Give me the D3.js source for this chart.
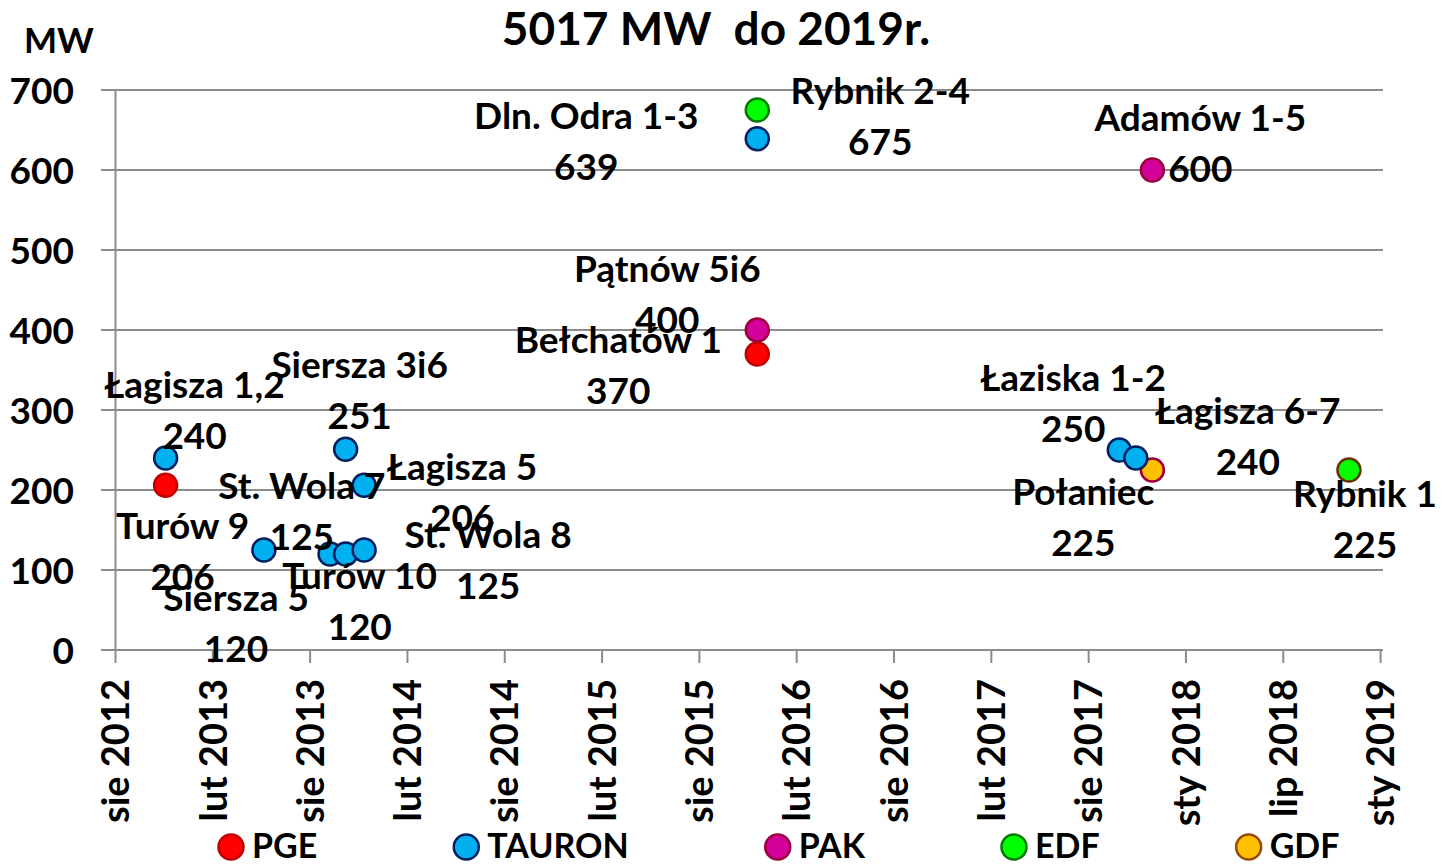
<!DOCTYPE html>
<html>
<head>
<meta charset="utf-8">
<script src="https://cdn.jsdelivr.net/npm/d3@7"></script>
<style>
  body { margin: 0; background: #fff; }
  svg { display: block; font-family: Lato, "Open Sans", sans-serif; font-weight: bold; }
</style>
</head>
<body>
<svg id="chart" width="1449" height="865"></svg>
<script>
// x positions are in axis steps (one step = one tick label, ~6 months)
const tickLabels = ['sie 2012', 'lut 2013', 'sie 2013', 'lut 2014', 'sie 2014', 'lut 2015', 'sie 2015',
  'lut 2016', 'sie 2016', 'lut 2017', 'sie 2017', 'sty 2018', 'lip 2018', 'sty 2019'];
const yTicks = [0, 100, 200, 300, 400, 500, 600, 700];

const companies = ['PGE', 'TAURON', 'PAK', 'EDF', 'GDF'];

const names = ['Turów 9', 'Bełchatów 1', 'Łagisza 1,2', 'St. Wola 7', 'Siersza 5', 'Siersza 3i6', 'Turów 10',
  'Łagisza 5', 'St. Wola 8', 'Dln. Odra 1-3', 'Łaziska 1-2', 'Łagisza 6-7', 'Pątnów 5i6', 'Adamów 1-5',
  'Rybnik 2-4', 'Rybnik 1', 'Połaniec'];
const owner = ['PGE', 'PGE', 'TAURON', 'TAURON', 'TAURON', 'TAURON', 'TAURON',
  'TAURON', 'TAURON', 'TAURON', 'TAURON', 'TAURON', 'PAK', 'PAK',
  'EDF', 'EDF', 'GDF'];
const mw = [206, 370, 240, 125, 120, 251, 120, 206, 125, 639, 250, 240, 400, 600, 675, 225, 225];
const pos = [0.52, 6.60, 0.52, 1.53, 2.21, 2.37, 2.37, 2.56, 2.56, 6.60, 10.32, 10.49, 6.60, 10.66, 6.60, 12.68, 10.66];

// label placement (px offset of the label centre from the marker), name line then value line
const labelDx = [17, -139, 29, 38, -94, 14, 14, 98, 124, -171, -46, 112, -90, 48, 123, 16, -69];
const labelDy = [40, -14, -73, -64, 44, -85, 22, -19, -15, -23, -72, -47, -61, -52, -19, 24, 22];

const fill = { PGE: '#ff0000', TAURON: '#00b0f0', PAK: '#d4009a', EDF: '#00ff00', GDF: '#ffc000' };
const stroke = { PGE: '#c00000', TAURON: '#002060', PAK: '#99003d', EDF: '#007a00', GDF: '#984807' };
const strokeOverride = { 'Rybnik 1': '#663300', 'Połaniec': '#99003d' };
const drawOrder = ['GDF', 'EDF', 'PAK', 'PGE', 'TAURON'];

const svg = d3.select('#chart');
const x = d3.scaleLinear().domain([0, 13.03]).range([115, 1383]);
const y = d3.scaleLinear().domain([0, 700]).range([650, 90]);
const labelSize = 37;
const lineGap = 51;

// title + unit
svg.append('text').attr('x', 716).attr('y', 45).attr('text-anchor', 'middle')
  .attr('font-size', 46).text('5017 MW\u00a0 do 2019r.');
svg.append('text').attr('x', 24).attr('y', 53).attr('font-size', 35).text('MW');

// gridlines
svg.append('g').selectAll('line').data(yTicks).enter().append('line')
  .attr('x1', 101).attr('x2', x.range()[1])
  .attr('y1', d => y(d)).attr('y2', d => y(d))
  .attr('stroke', '#8c8c8c').attr('stroke-width', 2);

// y axis
const yAxis = svg.append('g').attr('transform', 'translate(' + x(0) + ',0)')
  .call(d3.axisLeft(y).tickValues(yTicks).tickSize(0).tickPadding(41));
yAxis.select('.domain').attr('stroke', '#8c8c8c').attr('stroke-width', 2);
yAxis.selectAll('text').attr('font-size', labelSize).attr('font-family', 'Lato, sans-serif')
  .attr('font-weight', 'bold').attr('fill', '#000').attr('dy', '0.36em');

// x axis
const xAxis = svg.append('g').attr('transform', 'translate(0,' + y(0) + ')')
  .call(d3.axisBottom(x).tickValues(d3.range(tickLabels.length)).tickSize(13)
    .tickFormat(i => tickLabels[i]));
xAxis.select('.domain').attr('stroke', '#8c8c8c').attr('stroke-width', 2).attr('d', 'M101,0H1383');
xAxis.selectAll('line').attr('stroke', '#8c8c8c').attr('stroke-width', 2);
xAxis.selectAll('text').attr('font-size', 38).attr('font-family', 'Lato, sans-serif')
  .attr('font-weight', 'bold').attr('fill', '#000')
  .attr('transform', 'rotate(-90)').attr('text-anchor', 'end')
  .attr('x', -29).attr('y', 0).attr('dy', '0.36em');

// points
const pts = names.map((n, i) => ({ name: n, owner: owner[i], mw: mw[i], pos: pos[i], i: i }));
const ordered = pts.slice().sort((a, b) => drawOrder.indexOf(a.owner) - drawOrder.indexOf(b.owner) || a.pos - b.pos);

svg.append('g').selectAll('circle').data(ordered).enter().append('circle')
  .attr('cx', d => x(d.pos)).attr('cy', d => y(d.mw)).attr('r', 11.5)
  .attr('fill', d => fill[d.owner])
  .attr('stroke', d => strokeOverride[d.name] || stroke[d.owner])
  .attr('stroke-width', 2.5);

// data labels
const lbl = svg.append('g').attr('font-size', labelSize).attr('text-anchor', 'middle');
pts.forEach(d => {
  const cx = x(d.pos) + labelDx[d.i];
  const cy = y(d.mw) + labelDy[d.i];
  lbl.append('text').attr('x', cx).attr('y', cy).attr('dy', '0.36em').text(d.name);
  lbl.append('text').attr('x', cx).attr('y', cy + lineGap).attr('dy', '0.36em').text(d.mw);
});

// legend
const leg = svg.append('g');
let lx = 231;
companies.forEach(c => {
  leg.append('circle').attr('cx', lx).attr('cy', 847).attr('r', 12.5)
    .attr('fill', fill[c]).attr('stroke', stroke[c]).attr('stroke-width', 2.5);
  const t = leg.append('text').attr('x', lx + 21).attr('y', 846).attr('dy', '0.36em')
    .attr('font-size', 34).text(c);
  lx += 21 + t.node().getComputedTextLength() + 149;
});
</script>
</body>
</html>
